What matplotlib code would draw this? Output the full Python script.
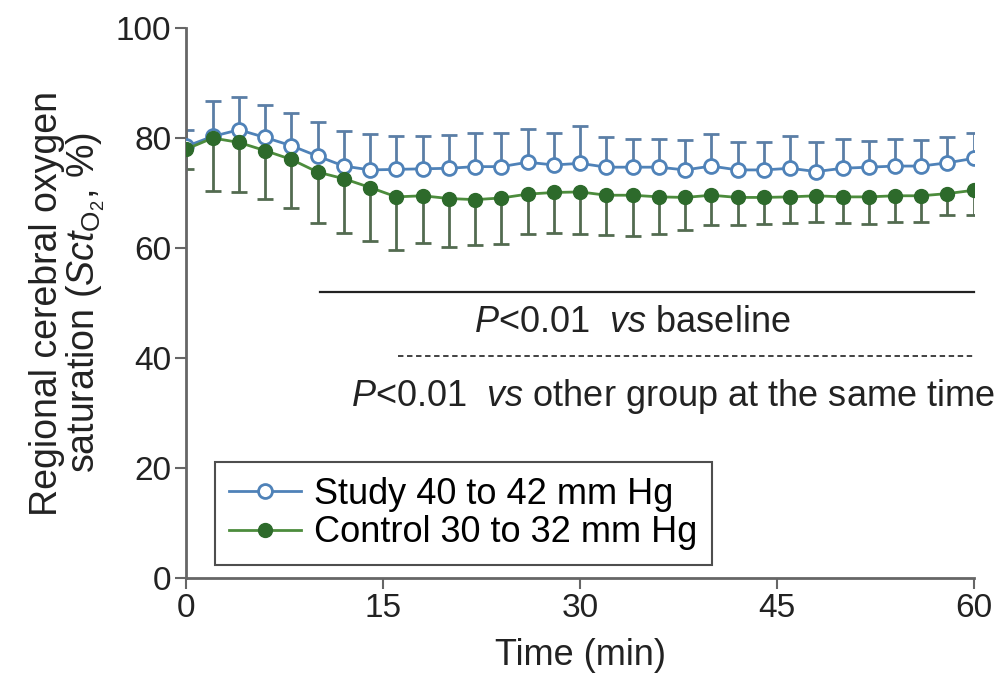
import matplotlib
matplotlib.use("Agg")
import matplotlib.pyplot as plt
import numpy as np

plt.rcParams['font.family'] = ['Liberation Sans', 'DejaVu Sans']
plt.rcParams['mathtext.fontset'] = 'custom'
plt.rcParams['mathtext.rm'] = 'Liberation Sans'
plt.rcParams['mathtext.it'] = 'Liberation Sans:italic'

# time points (min)
time = np.arange(0, 61, 2)

# Study group (40-42 mm Hg): mean and upper SD
study_mean = [78.5, 80.3, 81.5, 80.1, 78.6, 76.7, 74.9, 74.2, 74.3, 74.4, 74.5,
              74.8, 74.8, 75.6, 75.1, 75.4, 74.7, 74.7, 74.7, 74.2, 74.9, 74.2,
              74.2, 74.5, 73.9, 74.5, 74.7, 74.9, 74.9, 75.5, 76.3]
study_sd = [3.0, 6.5, 5.9, 5.9, 5.9, 6.2, 6.4, 6.6, 6.1, 6.0, 6.0,
            6.2, 6.2, 6.0, 5.9, 6.8, 5.4, 5.2, 5.1, 5.4, 5.9, 5.1,
            5.1, 5.9, 5.4, 5.3, 4.8, 4.9, 4.7, 4.6, 4.7]

# Control group (30-32 mm Hg): mean and lower SD
control_mean = [78.0, 80.0, 79.2, 77.7, 76.1, 73.8, 72.6, 71.0, 69.3, 69.5, 69.0,
                68.8, 69.1, 69.8, 70.1, 70.2, 69.6, 69.6, 69.3, 69.2, 69.6, 69.2,
                69.2, 69.3, 69.5, 69.3, 69.3, 69.5, 69.5, 69.9, 70.5]
control_sd = [3.6, 9.6, 9.1, 8.8, 8.8, 9.3, 9.8, 9.8, 9.7, 8.5, 8.9,
              8.3, 8.4, 7.3, 7.4, 7.7, 7.2, 7.4, 6.8, 5.9, 5.4, 5.0,
              4.8, 4.8, 4.7, 4.7, 4.9, 4.7, 4.7, 3.9, 4.5]

# significance bars: (start, end, y)
sig_baseline = (10.2, 60, 52)
sig_group = (16.1, 60, 40.4)

blue = '#4f82b8'
blue_err = '#5b7ea6'
green_line = '#4c8c3c'
green_mark = '#2d6a2b'
green_err = '#536b50'
txt = '#222222'

fig = plt.figure(figsize=(10.08, 6.77), dpi=100)
ax = fig.add_axes([0.185, 0.1462, 0.781, 0.8124])

zeros = np.zeros(len(time))

# study: upper error bars only
_, caps, _ = ax.errorbar(time, study_mean, yerr=[zeros, study_sd], fmt='none',
                         ecolor=blue_err, elinewidth=2, capsize=6, capthick=2, zorder=2)
caps[0].set_visible(False)
ax.plot(time, study_mean, '-o', color=blue, lw=2, ms=10, mfc='white',
        mec=blue, mew=2, zorder=3, label='Study 40 to 42 mm Hg')

# control: lower error bars only
_, caps, _ = ax.errorbar(time, control_mean, yerr=[control_sd, zeros], fmt='none',
                         ecolor=green_err, elinewidth=2, capsize=6, capthick=2, zorder=2)
caps[1].set_visible(False)
ax.plot(time, control_mean, '-o', color=green_line, lw=2, ms=10, mfc=green_mark,
        mec=green_mark, mew=1, zorder=4, label='Control 30 to 32 mm Hg')

# significance annotations
ax.plot(sig_baseline[:2], [sig_baseline[2]] * 2, color=txt, lw=1.6, clip_on=False)
ax.text(34, 46.5, r'$\mathit{P}$<0.01  $\mathit{vs}$ baseline', ha='center', va='center',
        fontsize=26, color=txt)
ax.plot(sig_group[:2], [sig_group[2]] * 2, color='#333333', lw=1.3, ls=(0, (3, 2)),
        clip_on=False)
ax.text(37.1, 33, r'$\mathit{P}$<0.01  $\mathit{vs}$ other group at the same time',
        ha='center', va='center', fontsize=26, color=txt, clip_on=False)

ax.set_xlim(0, 60)
ax.set_ylim(0, 100)
ax.set_xticks([0, 15, 30, 45, 60])
ax.set_yticks([0, 20, 40, 60, 80, 100])

for side in ['top', 'right']:
    ax.spines[side].set_visible(False)
for side in ['left', 'bottom']:
    ax.spines[side].set_color('#666666')
    ax.spines[side].set_linewidth(2)
ax.tick_params(axis='both', direction='out', length=8, width=1.5, color='#666666',
               labelsize=24, labelcolor=txt, pad=3)

ax.set_xlabel('Time (min)', fontsize=26, color=txt, labelpad=10)
ax.set_ylabel('Regional cerebral oxygen\n' + r'saturation ($\mathit{Sct}_{\mathrm{O}_2}$, %)',
              fontsize=27, color=txt, labelpad=6, linespacing=1.0)

leg = ax.legend(loc='lower left', bbox_to_anchor=(0.036, 0.024), borderaxespad=0,
                fontsize=26, frameon=True, fancybox=False, edgecolor=txt,
                handlelength=2.0, handletextpad=0.35, borderpad=0.4, labelspacing=0.1)
leg.get_frame().set_linewidth(1.5)

fig.savefig('out.png', dpi=100)
